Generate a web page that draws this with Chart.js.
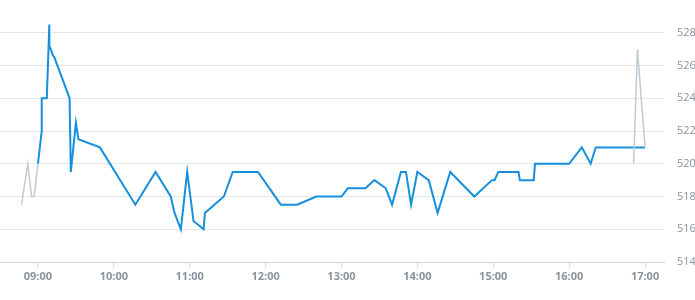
<!DOCTYPE html>
<html lang="en">
  <head>
    <meta charset="UTF-8" />
    <title>Intraday price</title>
    <style>
      body,
      html {
        margin: 0;
        padding: 0;
        background: #ffffff;
      }
      #wrap {
        width: 695px;
        height: 300px;
      }
    </style>
  </head>
  <body>
    <div id="wrap">
      <canvas id="priceChart" width="695" height="300"></canvas>
    </div>

    <script src="https://cdn.jsdelivr.net/npm/chart.js"></script>
    <script>
      // main session
      const sessionTimes = [
        "09:00", "09:03", "09:03", "09:07", "09:09", "09:09", "09:12", "09:13",
        "09:25", "09:26", "09:30", "09:32", "09:49", "10:17", "10:33", "10:45",
        "10:48", "10:53", "10:58", "11:03", "11:11", "11:12", "11:27", "11:34",
        "11:54", "12:12", "12:25", "12:40", "13:00", "13:05", "13:19", "13:26",
        "13:35", "13:40", "13:47", "13:51", "13:55", "14:00", "14:09", "14:16",
        "14:26", "14:45", "14:59", "15:01", "15:04", "15:20", "15:21", "15:32",
        "15:33", "16:00", "16:10", "16:17", "16:21", "17:00",
      ];
      const sessionValues = [
        520, 522, 524, 524, 528.5, 527.2, 526.6, 526.5,
        524, 519.5, 522.5, 521.5, 521, 517.5, 519.5, 518,
        517, 516, 519.5, 516.5, 516, 517, 518, 519.5,
        519.5, 517.5, 517.5, 518, 518, 518.5, 518.5, 519,
        518.5, 517.5, 519.5, 519.5, 517.5, 519.5, 519, 517,
        519.5, 518, 519, 519, 519.5, 519.5, 519, 519,
        520, 520, 521, 520, 521, 521,
      ];

      // pre and post session
      const preTimes = ["08:47", "08:52", "08:55", "08:57", "09:00"];
      const preValues = [517.5, 520, 518, 518, 520];
      const postTimes = ["16:51", "16:54", "17:00"];
      const postValues = [520, 527, 521];

      const xTickLabels = ["09:00", "10:00", "11:00", "12:00", "13:00", "14:00", "15:00", "16:00", "17:00"];
      const yTickValues = [514, 516, 518, 520, 522, 524, 526, 528];

      const xMin = "08:30";
      const xMax = "17:15";

      function toMinutes(hhmm) {
        const parts = hhmm.split(":");
        return Number(parts[0]) * 60 + Number(parts[1]);
      }

      function toPoints(times, values) {
        return times.map((t, i) => ({ x: toMinutes(t), y: values[i] }));
      }

      const labelColor = "#8a939b";
      const ctx = document.getElementById("priceChart").getContext("2d");

      const priceChart = new Chart(ctx, {
        type: "line",
        data: {
          datasets: [
            {
              label: "Pre",
              data: toPoints(preTimes, preValues),
              borderColor: "#c0cad4",
              borderWidth: 1.5,
              pointRadius: 0,
              tension: 0,
              order: 1,
            },
            {
              label: "Post",
              data: toPoints(postTimes, postValues),
              borderColor: "#c0cad4",
              borderWidth: 1.5,
              pointRadius: 0,
              tension: 0,
              order: 1,
            },
            {
              label: "Session",
              data: toPoints(sessionTimes, sessionValues),
              borderColor: "#1590dc",
              borderWidth: 2,
              pointRadius: 0,
              tension: 0,
              order: 2,
            },
          ],
        },
        options: {
          animation: false,
          responsive: false,
          layout: { padding: 0 },
          scales: {
            x: {
              type: "linear",
              min: toMinutes(xMin),
              max: toMinutes(xMax),
              afterBuildTicks: (axis) => {
                axis.ticks = xTickLabels.map((l) => ({ value: toMinutes(l) }));
              },
              afterFit: (axis) => {
                axis.height = 38;
                axis.paddingLeft = 0;
                axis.paddingRight = 0;
              },
              ticks: {
                autoSkip: false,
                maxRotation: 0,
                padding: 3,
                color: labelColor,
                font: { family: "'Open Sans'", size: 11, weight: "bold" },
                callback: (v) => {
                  const h = Math.floor(v / 60);
                  const m = v % 60;
                  return String(h).padStart(2, "0") + ":" + String(m).padStart(2, "0");
                },
              },
              grid: {
                drawOnChartArea: false,
                drawTicks: true,
                tickLength: 5,
                color: "#ccd6e0",
              },
              border: { display: true, color: "#ccd6e0", width: 1 },
            },
            y: {
              position: "right",
              min: 514,
              max: 530,
              afterBuildTicks: (axis) => {
                axis.ticks = yTickValues.map((v) => ({ value: v }));
              },
              afterFit: (axis) => {
                axis.width = 31;
                axis.paddingTop = 0;
                axis.paddingBottom = 0;
              },
              ticks: {
                padding: 13,
                color: labelColor,
                font: { family: "'Open Sans'", size: 11 },
              },
              grid: {
                drawTicks: false,
                color: "#e6e6e6",
              },
              border: { display: false },
            },
          },
          plugins: {
            legend: { display: false },
            tooltip: { enabled: false },
          },
        },
      });
    </script>
  </body>
</html>
